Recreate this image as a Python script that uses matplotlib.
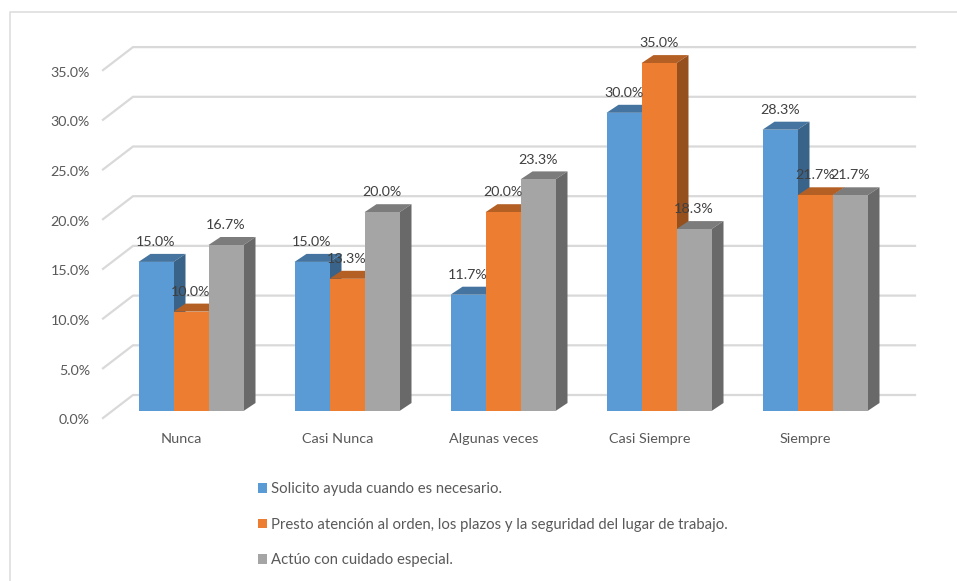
#! /usr/bin/python3
# -*- coding: utf-8 -*-

import matplotlib
matplotlib.use('Agg')
import matplotlib.pyplot as plt
import matplotlib.patches as mpatches

categories = ['Nunca', 'Casi Nunca', 'Algunas veces', 'Casi Siempre', 'Siempre']
solicito = [15.0, 15.0, 11.7, 30.0, 28.3]
presto = [10.0, 13.3, 20.0, 35.0, 21.7]
actuo = [16.7, 20.0, 23.3, 18.3, 21.7]
y_ticks = [0, 5, 10, 15, 20, 25, 30, 35]
series_names = ['Solicito ayuda cuando es necesario.',
                'Presto atención al orden, los plazos y la seguridad del lugar de trabajo.',
                'Actúo con cuidado especial.']

plt.rcParams['font.family'] = ['Lato', 'DejaVu Sans']

W, H = 957, 581
px_x = 156.0   # pixels per category
px_y = 9.94    # pixels per percent
x0, y0 = 191, 411

fig = plt.figure(figsize=(W / 100, H / 100), dpi=100)
ax = fig.add_axes([0, 0, 1, 1])
ax.set_xlim(-x0 / px_x, (W - x0) / px_x)
ax.set_ylim(-(H - y0) / px_y, y0 / px_y)
ax.axis('off')

def X(p):
    return (p - x0) / px_x

def Y(p):
    return (y0 - p) / px_y

# outer frame of the chart, only left and top are visible
ax.plot([X(9.5), X(9.5), X(957)], [Y(581), Y(11.5), Y(11.5)], color='#e0e0e0', lw=1.3)

# walls
for v in y_ticks:
    ax.plot([X(103), X(133), X(915)],
            [v + Y(418), v + Y(395), v + Y(395)],
            color='#d9d9d9', lw=1.6, solid_joinstyle='miter', zorder=1)
    ax.text(X(90), v + Y(420.5), '%.1f%%' % v, ha='right', va='center',
            fontsize=10.3, color='#595959')

bar_w = 35 / px_x
dx = 12 / px_x
dy = 8 / px_y
styles = [('#5B9BD5', '#44749F', '#3A6389'),
          ('#ED7D31', '#B45F23', '#96501D'),
          ('#A5A5A5', '#7C7C7C', '#696969')]

z = 2
for s, values in enumerate([solicito, presto, actuo]):
    front, top, side = styles[s]
    for i, v in enumerate(values):
        left = i + (s - 1.5) * bar_w
        right = left + bar_w
        ax.add_patch(mpatches.Polygon([(left, v), (right, v), (right + dx, v + dy), (left + dx, v + dy)],
                                      closed=True, fc=top, ec='none', zorder=z))
        ax.add_patch(mpatches.Polygon([(right, 0), (right + dx, dy), (right + dx, v + dy), (right, v)],
                                      closed=True, fc=side, ec='none', zorder=z))
        ax.add_patch(mpatches.Rectangle((left, 0), bar_w, v, fc=front, ec='none', zorder=z + 0.1))
        ax.text(left + bar_w / 2, v + 2.0, '%.1f%%' % v, ha='center', va='center',
                fontsize=10.3, color='#404040', zorder=10)
    z += 1

for i, c in enumerate(categories):
    ax.text(i + X(181.5), Y(439), c, ha='center', va='center', fontsize=10.4, color='#595959')

handles = [mpatches.Patch(fc=st[0], ec='none', label=n) for st, n in zip(styles, series_names)]
ax.legend(handles=handles, loc='upper left', bbox_to_anchor=(258 / W, 1 - 482 / H),
          frameon=False, fontsize=10.7, labelcolor='#595959',
          borderpad=0, borderaxespad=0, handlelength=0.62, handleheight=0.62,
          handletextpad=0.25, labelspacing=1.45)

fig.savefig('out.png', dpi=100)
